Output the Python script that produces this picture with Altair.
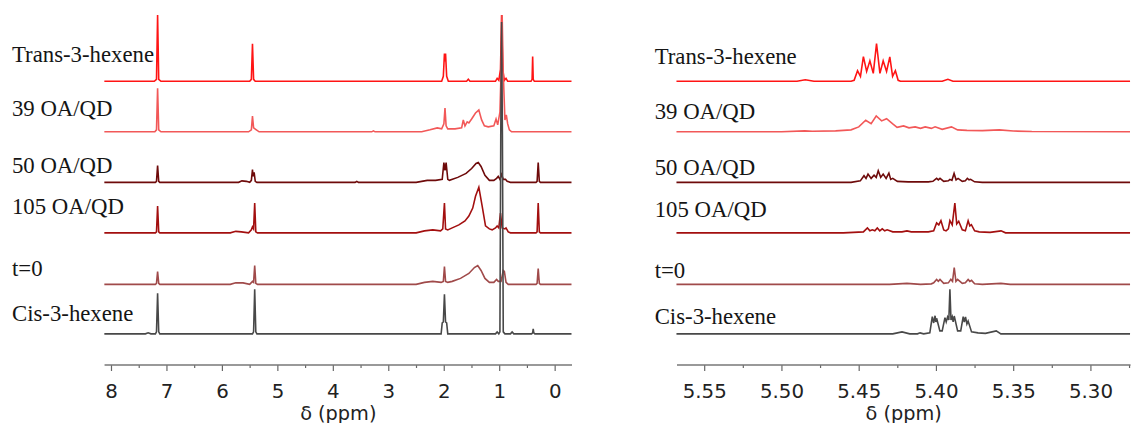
import altair as alt
import pandas as pd

SERIES = ["Trans-3-hexene", "39 OA/QD", "50 OA/QD", "105 OA/QD", "t=0", "Cis-3-hexene"]
COLORS = ["#ff1414", "#f25858", "#6e0a0a", "#a30f0f", "#a04a4a", "#484848"]
OFFSETS = [286, 235, 184, 133, 81, 31]
LABEL_Y_LEFT = [306, 251, 193, 152, 89, 44]
LABEL_Y_RIGHT = [303, 248, 191, 149, 87, 41]

# ---- left panel: full spectrum (ppm, intensity) ----
TRANS_L = [(8.12, 0), (7.22, 0), (7.18, 2), (7.16, 67), (7.14, 2), (7.10, 0),
           (5.50, 0), (5.47, 2), (5.45, 38), (5.43, 2), (5.40, 0),
           (2.04, 0), (2.01, 5), (1.99, 28), (1.98, 20), (1.97, 28), (1.95, 5), (1.92, 0),
           (1.59, 0), (1.56, 2), (1.53, 0), (1.07, 0), (1.04, 3), (1.01, 1),
           (0.98, 12), (0.96, 67), (0.94, 12), (0.91, 1), (0.88, 3), (0.85, 0),
           (0.43, 0), (0.41, 2), (0.40, 25), (0.39, 2), (0.37, 0), (-0.3, 0)]
OA39_L = [(8.12, 0), (7.21, 0), (7.18, 2), (7.16, 44), (7.14, 2), (7.10, 0),
          (5.52, 0), (5.47, 2), (5.45, 16), (5.43, 4), (5.38, 2), (5.33, 0),
          (3.30, 0), (3.27, 1), (3.24, 0),
          (2.40, 0), (2.25, 2), (2.12, 4), (2.04, 3), (2.00, 8), (1.98, 24), (1.96, 6),
          (1.93, 3), (1.80, 3), (1.68, 4), (1.65, 12), (1.62, 6), (1.58, 10), (1.55, 9),
          (1.50, 13), (1.43, 19), (1.37, 22), (1.32, 12), (1.27, 6), (1.20, 5), (1.10, 6),
          (1.06, 13), (1.03, 7), (0.99, 20), (0.97, 60), (0.95, 118), (0.93, 60),
          (0.90, 12), (0.875, 17), (0.85, 8), (0.82, 2), (0.78, 0), (-0.3, 0)]
OA50_L = [(8.12, 0), (7.20, 0), (7.18, 1), (7.16, 17), (7.14, 1), (7.12, 0),
          (5.70, 0), (5.64, 1.5), (5.56, 1), (5.50, 0), (5.47, 2), (5.45, 13), (5.44, 6),
          (5.42, 10), (5.40, 1), (5.37, 0),
          (3.60, 0), (3.57, 1), (3.54, 0),
          (2.50, 0), (2.30, 2), (2.15, 2), (2.03, 3), (2.00, 20), (1.98, 12), (1.96, 20),
          (1.93, 3), (1.90, 2), (1.75, 5), (1.60, 9), (1.50, 14), (1.42, 19), (1.38, 20),
          (1.33, 16), (1.26, 7), (1.18, 2), (1.10, 2), (1.05, 4), (1.02, 6), (0.99, 3),
          (0.96, 8), (0.93, 3), (0.89, 3), (0.86, 1), (0.80, 0),
          (0.34, 0), (0.32, 1), (0.30, 20), (0.28, 1), (0.26, 0), (-0.3, 0)]
OA105_L = [(8.12, 0), (7.20, 0), (7.18, 1), (7.16, 27), (7.14, 1), (7.12, 0),
           (5.85, 0), (5.75, 1.5), (5.65, 1), (5.52, 0), (5.47, 3), (5.45, 6), (5.43, 4),
           (5.41, 30), (5.39, 1), (5.36, 0),
           (2.50, 0), (2.35, 2), (2.20, 3), (2.06, 2), (2.02, 4), (1.99, 30), (1.97, 4),
           (1.93, 3), (1.85, 5), (1.73, 8), (1.62, 12), (1.55, 17), (1.48, 25), (1.43, 37),
           (1.37, 46), (1.31, 27), (1.25, 7), (1.18, 4), (1.13, 3), (1.07, 5), (1.04, 7),
           (1.01, 5), (0.98, 20), (0.95, 5), (0.90, 4), (0.88, 5), (0.84, 1), (0.80, 0),
           (0.34, 0), (0.32, 1), (0.30, 30), (0.28, 1), (0.26, 0), (-0.3, 0)]
T0_L = [(8.12, 0), (7.20, 0), (7.18, 1), (7.16, 13), (7.14, 1), (7.12, 0),
        (5.85, 0), (5.75, 1.5), (5.62, 1.5), (5.50, 0), (5.45, 3), (5.43, 2), (5.41, 19),
        (5.39, 1), (5.36, 0),
        (2.50, 0), (2.35, 2), (2.20, 3), (2.05, 2), (2.01, 3), (1.99, 18), (1.97, 3),
        (1.93, 2), (1.85, 3), (1.70, 6), (1.55, 11), (1.45, 17), (1.39, 19), (1.33, 14),
        (1.26, 6), (1.18, 2), (1.10, 2), (1.05, 5), (1.02, 3), (0.97, 3), (0.93, 14),
        (0.91, 13), (0.88, 2), (0.84, 0),
        (0.34, 0), (0.32, 1), (0.30, 16), (0.28, 1), (0.26, 0), (-0.3, 0)]
CIS_L = [(8.12, 0), (7.38, 0), (7.33, 1), (7.28, 0), (7.20, 0), (7.18, 2), (7.16, 41),
         (7.14, 2), (7.12, 0),
         (5.45, 0), (5.43, 2), (5.41, 45), (5.39, 2), (5.37, 0),
         (2.05, 0), (2.03, 11), (2.01, 12), (1.99, 40), (1.97, 12), (1.95, 11), (1.93, 0),
         (1.07, 0), (1.04, 2), (1.01, 0), (0.99, 2), (0.975, 200), (0.96, 315),
         (0.945, 200), (0.93, 2), (0.90, 0), (0.80, 0), (0.77, 2), (0.74, 0),
         (0.42, 0), (0.40, 1), (0.39, 5), (0.38, 1), (0.36, 0), (-0.3, 0)]

# ---- right panel: olefinic region (ppm, intensity) ----
TRANS_R = [(5.568, 0), (5.49, 0), (5.4846, 1.5), (5.479, 0), (5.455, 0), (5.453, 1),
           (5.4508, 10.7), (5.4489, 5), (5.4470, 25), (5.4449, 10), (5.4428, 20.7),
           (5.4406, 8), (5.4385, 38), (5.4363, 8), (5.4342, 20.7), (5.4320, 10),
           (5.4299, 24.7), (5.4281, 5), (5.4263, 10.7), (5.4245, 1), (5.423, 0),
           (5.396, 0), (5.3923, 2), (5.389, 0), (5.2744, 0)]
OA39_R = [(5.568, 0), (5.50, 0), (5.485, 1), (5.48, 0.5), (5.465, 1), (5.455, 2), (5.45, 5),
          (5.4455, 11.7), (5.442, 8.3), (5.4387, 16), (5.4352, 11), (5.432, 13.3),
          (5.428, 8), (5.4252, 4.5), (5.421, 6), (5.4175, 4), (5.4135, 5), (5.410, 3.5),
          (5.407, 5), (5.403, 3.5), (5.4006, 5), (5.396, 2.5), (5.390, 5), (5.386, 2),
          (5.38, 1.5), (5.37, 1.2), (5.359, 2), (5.35, 0.8), (5.338, 0.3), (5.2744, 0)]
OA50_R = [(5.568, 0), (5.455, 0), (5.449, 1.5), (5.4466, 6.7), (5.4453, 4), (5.444, 8.3),
          (5.4420, 4), (5.4401, 7.3), (5.4387, 5), (5.4374, 11.7), (5.4358, 5),
          (5.4342, 8.3), (5.4323, 4), (5.4305, 9.3), (5.4293, 3), (5.428, 4), (5.425, 1),
          (5.418, 0.5), (5.405, 0.5), (5.402, 1), (5.3996, 4), (5.3985, 2.5), (5.3974, 4),
          (5.395, 1), (5.392, 1.5), (5.391, 3), (5.3897, 2), (5.3883, 9), (5.387, 2.5),
          (5.3857, 4), (5.383, 1), (5.381, 1.5), (5.3797, 4), (5.3786, 2.5), (5.3776, 3),
          (5.375, 0.5), (5.37, 0), (5.2744, 0)]
OA105_R = [(5.568, 0), (5.460, 0), (5.447, 1), (5.4444, 5), (5.4428, 2), (5.4412, 3),
           (5.4396, 2), (5.438, 5), (5.4364, 2), (5.4348, 4), (5.4332, 2), (5.4316, 3),
           (5.428, 1), (5.422, 1), (5.4188, 2), (5.416, 1), (5.405, 1), (5.4015, 2),
           (5.3996, 10), (5.3982, 8), (5.3968, 12.3), (5.395, 3), (5.3935, 2), (5.392, 4),
           (5.391, 12.3), (5.3895, 8), (5.3878, 30), (5.3866, 9), (5.3853, 11.7),
           (5.383, 3), (5.381, 2), (5.3792, 12.3), (5.3781, 7), (5.3771, 8.3), (5.375, 2),
           (5.372, 1), (5.365, 0.5), (5.3579, 2), (5.355, 0), (5.2744, 0)]
T0_R = [(5.568, 0), (5.43, 0), (5.4188, 1), (5.41, 0), (5.403, 0.5), (5.4015, 1.5),
        (5.3996, 5), (5.3985, 3), (5.3974, 5), (5.395, 1), (5.392, 1.5), (5.3904, 5),
        (5.3893, 3), (5.3882, 17), (5.3871, 3), (5.386, 5), (5.383, 1), (5.381, 1.5),
        (5.3792, 5), (5.3781, 3), (5.377, 4), (5.375, 0.5), (5.37, 0), (5.358, 1),
        (5.352, 0), (5.2744, 0)]
CIS_R = [(5.568, 0), (5.428, 0), (5.422, 2), (5.417, 0), (5.412, 0), (5.4103, 1), (5.408, 0),
         (5.404, 1), (5.4024, 17.3), (5.4015, 11), (5.4006, 18.3), (5.4001, 12),
         (5.3996, 15.7), (5.3975, 3), (5.396, 3), (5.3942, 16.3), (5.3934, 12),
         (5.3925, 17), (5.3917, 14), (5.391, 45), (5.3903, 14), (5.3895, 17.3),
         (5.3889, 12), (5.3882, 18), (5.386, 3), (5.384, 3), (5.3824, 17.3),
         (5.3817, 12), (5.3809, 17), (5.3800, 10), (5.3792, 13), (5.377, 2),
         (5.3728, 1), (5.368, 0.5), (5.361, 3), (5.358, 0), (5.2744, 0)]

LEFT_TRACES = [TRANS_L, OA39_L, OA50_L, OA105_L, T0_L, CIS_L]
RIGHT_TRACES = [TRANS_R, OA39_R, OA50_R, OA105_R, T0_R, CIS_R]

LEFT_TICKS = [8, 7.5, 7, 6.5, 6, 5.5, 5, 4.5, 4, 3.5, 3, 2.5, 2, 1.5, 1, 0.5, 0]
RIGHT_TICKS = [5.55, 5.525, 5.50, 5.475, 5.45, 5.425, 5.40, 5.375, 5.35, 5.325, 5.30, 5.275]

LEFT_DOMAIN = [8.125, -0.3]
RIGHT_DOMAIN = [5.568, 5.2744]
Y_DOMAIN = [0, 358]
H = 358


def axis(values, fmt, major_test):
    return alt.Axis(
        values=values, format=fmt, title="δ (ppm)", grid=False,
        labelExpr=f"({major_test}) ? datum.label : ''",
        tickSize={"condition": {"test": major_test, "value": 6}, "value": 3},
        labelFont="DejaVu Sans", labelFontSize=20, labelColor="#222",
        labelPadding=11, labelFlush=False,
        titleFont="DejaVu Sans", titleFontSize=19.5, titleFontWeight="normal",
        titleColor="#222", titleY=40, titleBaseline="top",
        domainColor="#777", domainWidth=1.5, tickColor="#666", tickWidth=1.2,
    )


def panel(traces, domain, width, ticks, fmt, test, label_y, label_x):
    xenc = alt.X("ppm:Q", scale=alt.Scale(domain=domain, nice=False, zero=False),
                 axis=axis(ticks, fmt, test))
    yenc = alt.Y("y:Q", scale=alt.Scale(domain=Y_DOMAIN, nice=False, zero=False), axis=None)
    layers = []
    for name, pts, off, col in zip(SERIES, traces, OFFSETS, COLORS):
        df = pd.DataFrame({"ppm": [p for p, _ in pts], "y": [h + off for _, h in pts]})
        df["series"] = name
        layers.append(alt.Chart(df).mark_line(color=col, strokeWidth=1.6).encode(x=xenc, y=yenc))
    lab = pd.DataFrame({"label": SERIES, "y": label_y})
    text = alt.Chart(lab).mark_text(
        align="left", baseline="alphabetic", font="Liberation Serif", fontSize=23, color="#151515"
    ).encode(x=alt.value(label_x), y=alt.Y("y:Q", scale=alt.Scale(domain=Y_DOMAIN, nice=False), axis=None),
             text="label:N")
    layers.append(text)
    return alt.layer(*layers).properties(width=width, height=H)


left = panel(LEFT_TRACES, LEFT_DOMAIN, 472, LEFT_TICKS, ".0f",
             "datum.value % 1 === 0", LABEL_Y_LEFT, -93)
right = panel(RIGHT_TRACES, RIGHT_DOMAIN, 458, RIGHT_TICKS, ".2f",
              "round(datum.value * 1000) % 50 === 0", LABEL_Y_RIGHT, -22)

chart = alt.hconcat(left, right, spacing=80).properties(
    padding={"left": 4, "top": 0, "right": 0, "bottom": 0},
    background="white",
).configure_view(stroke=None)

chart.save("out.html", embed_options={"renderer": "svg", "actions": False})
